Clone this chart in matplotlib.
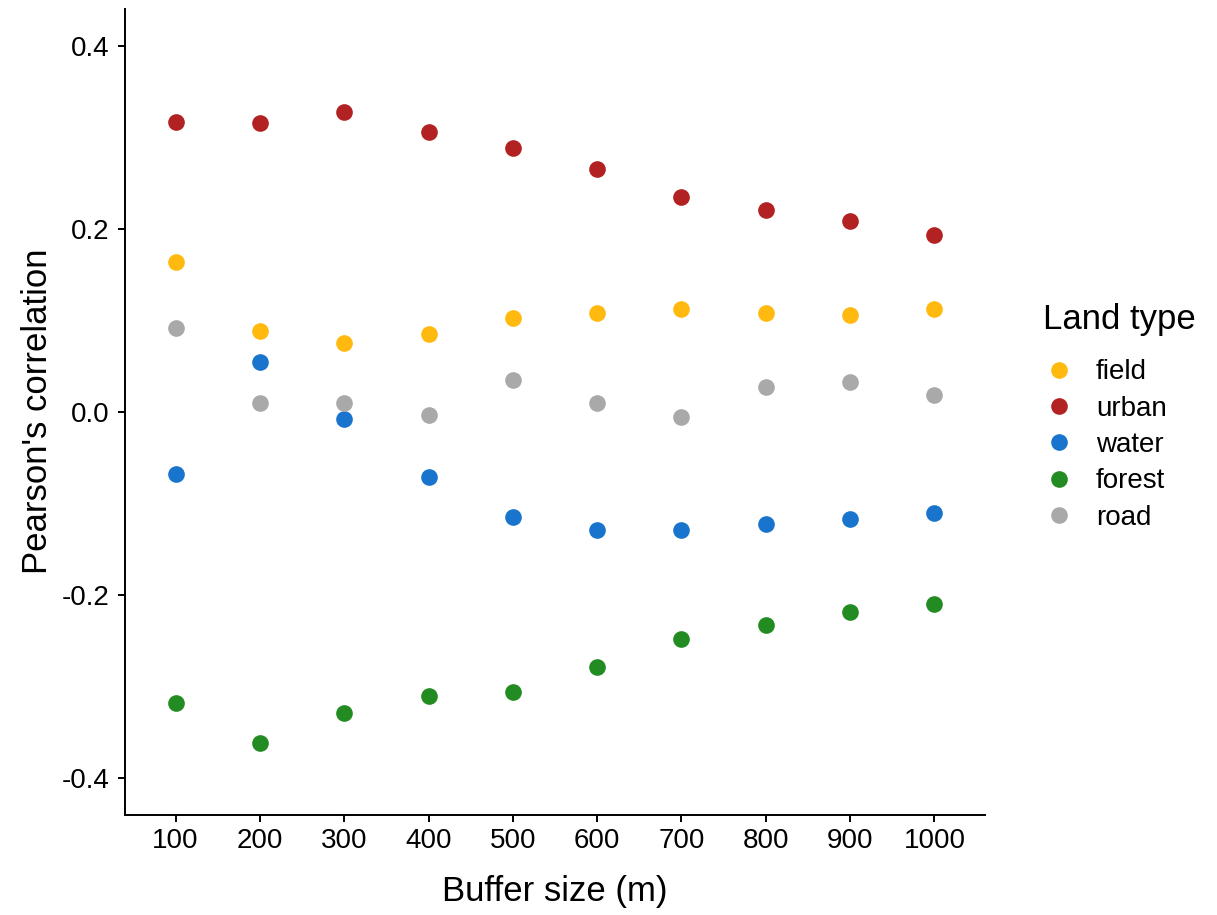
import matplotlib.pyplot as plt

# Data
buffer_size = [100, 200, 300, 400, 500, 600, 700, 800, 900, 1000]
field = [0.164, 0.088, 0.075, 0.085, 0.102, 0.108, 0.112, 0.108, 0.106, 0.112]
urban = [0.317, 0.316, 0.328, 0.306, 0.288, 0.265, 0.235, 0.220, 0.208, 0.193]
water = [-0.068, 0.054, -0.008, -0.071, -0.115, -0.129, -0.129, -0.123, -0.117, -0.111]
forest = [-0.318, -0.362, -0.329, -0.311, -0.306, -0.279, -0.248, -0.233, -0.219, -0.210]
road = [0.092, 0.010, 0.010, -0.004, 0.035, 0.010, -0.006, 0.027, 0.032, 0.018]

land_types = ['field', 'urban', 'water', 'forest', 'road']
series = [field, urban, water, forest, road]
colours = ['#FFB90F', '#B22222', '#1874CD', '#228B22', '#A9A9A9']

plt.rcParams['font.family'] = ['Liberation Sans', 'DejaVu Sans']

fig = plt.figure(figsize=(12.17, 9.15), dpi=100)
ax = fig.add_axes([125 / 1217, 1 - 814.5 / 915, 860 / 1217, 805.5 / 915])

for name, vals, col in zip(land_types, series, colours):
    ax.plot(buffer_size, vals, linestyle='none', marker='o', markersize=12,
            markeredgewidth=0, color=col, label=name)

ax.set_xlim(40, 1060)
ax.set_ylim(-0.44, 0.44)
ax.set_xticks(buffer_size)
ax.set_yticks([-0.4, -0.2, 0.0, 0.2, 0.4])
ax.set_yticklabels(['-0.4', '-0.2', '0.0', '0.2', '0.4'])

for side in ['top', 'right']:
    ax.spines[side].set_visible(False)
for side in ['left', 'bottom']:
    ax.spines[side].set_linewidth(1.4)
ax.tick_params(axis='both', length=5, width=1.4, labelsize=20, colors='black')
ax.tick_params(axis='x', pad=4.5)
ax.tick_params(axis='y', pad=6)

ax.set_xlabel('Buffer size (m)', fontsize=25, labelpad=15)
ax.set_ylabel("Pearson's correlation", fontsize=25, labelpad=6)

# legend title drawn separately so the gap to the first key matches
fig.text(1043 / 1217, 1 - 319 / 915, 'Land type', fontsize=25, ha='left', va='center')
leg = fig.legend(loc='center left', bbox_to_anchor=(1045 / 1217, 1 - 445 / 915),
                 frameon=False, fontsize=20,
                 handlelength=1.0, handletextpad=0.83, labelspacing=0.37,
                 borderpad=0, borderaxespad=0)

fig.savefig('out.png', dpi=100)
